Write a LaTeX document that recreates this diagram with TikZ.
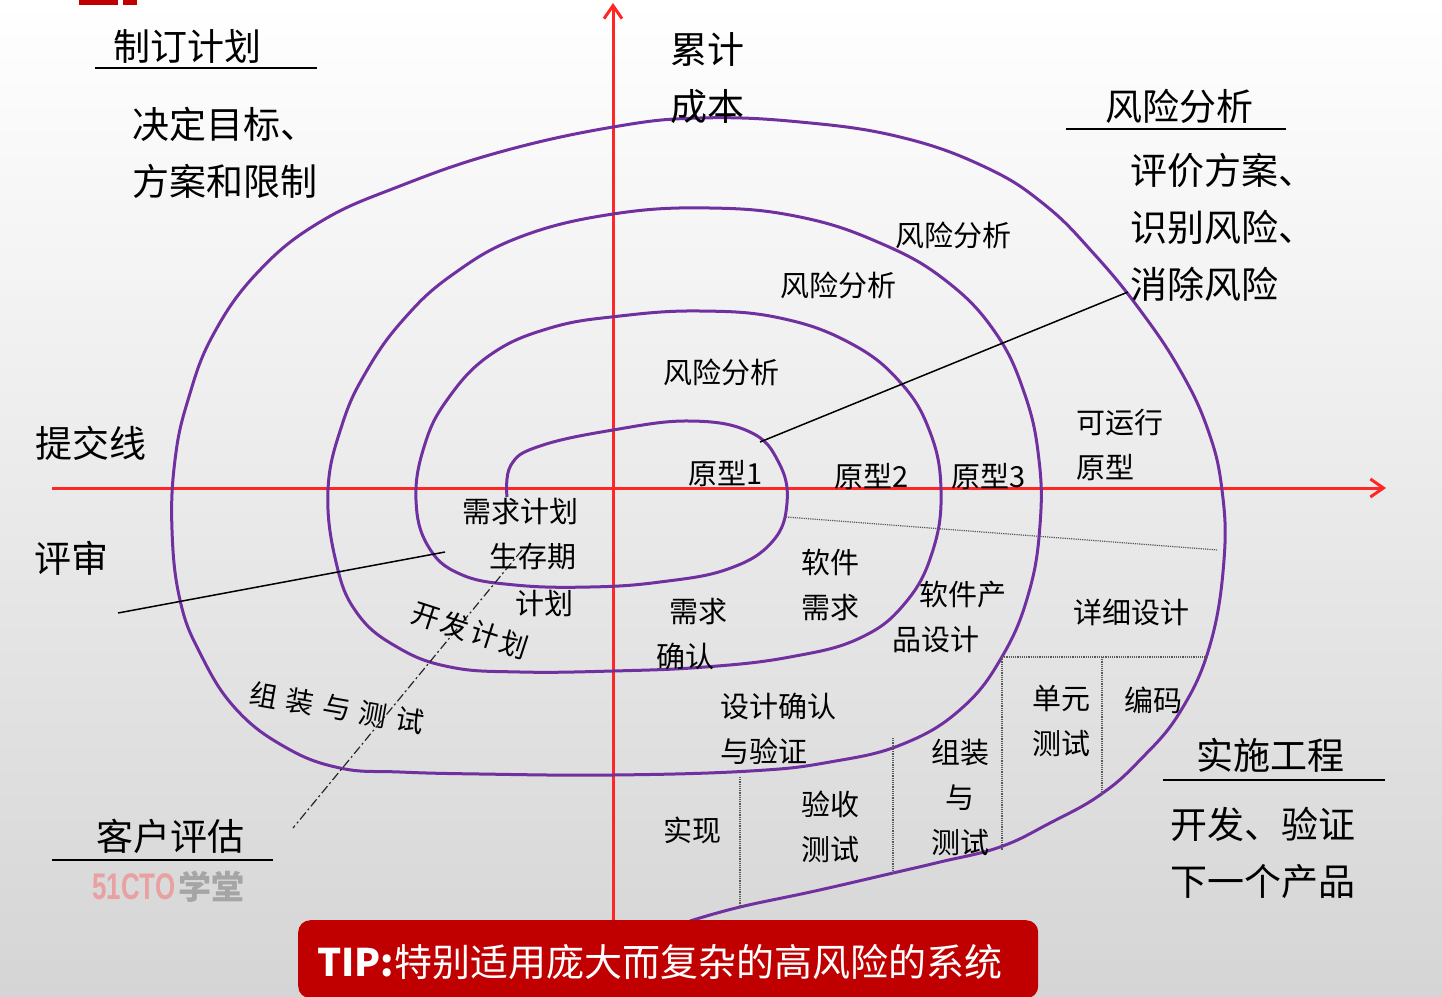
\documentclass[tikz,border=0pt]{standalone}
\usepackage{fontspec}
\setmainfont{Noto Sans CJK SC}
\newfontfamily\logofont{Liberation Sans}
\usepackage{tikz}
\usetikzlibrary{arrows.meta}
\definecolor{spiralpurple}{RGB}{112,48,160}
\definecolor{axisred}{RGB}{255,38,38}
\definecolor{tipred}{RGB}{192,0,0}
\definecolor{logopink}{RGB}{232,160,160}
\definecolor{logogray}{RGB}{165,165,165}
\definecolor{bgmid}{RGB}{244,244,244}
\definecolor{bgbottom}{RGB}{213,213,213}
\tikzset{
  bigtxt/.style={inner sep=0pt, align=center, font=\fontsize{37}{57}\selectfont},
  smalltxt/.style={inner sep=0pt, align=center, font=\fontsize{29}{45}\selectfont},
  spiral/.style={draw=spiralpurple, line width=3pt},
  axis/.style={draw=axisred, line width=3pt, -{Straight Barb[length=13pt,width=18pt]}},
  rule/.style={line width=1.5pt},
  guide/.style={densely dotted, line width=1.2pt, gray!70!black},
  dashdotline/.style={line width=1.2pt, gray!30!black, dash pattern=on 9pt off 3pt on 2pt off 3pt},
  tipbox/.style={fill=tipred, rounded corners=12pt, minimum width=740pt, minimum height=78pt, inner sep=0pt}
}

\begin{document}
\begin{tikzpicture}[x=1pt, y=-1pt]
        % Background
        \useasboundingbox (0,0) rectangle (1442,996);
        \shade[top color=white, middle color=bgmid, bottom color=bgbottom] (0,0) rectangle (1442,996);
        \fill[tipred] (79,0) rectangle (118,5);
        \fill[tipred] (123,0) rectangle (137,5);

        % Axes
        \coordinate (xstart) at (52,488);
        \coordinate (xend)   at (1386,488);
        \coordinate (ystart) at (613,921);
        \coordinate (yend)   at (613,3);
        \draw[axis] (xstart) -- (xend);
        \draw[axis] (ystart) -- (yend);

        % Spiral
        \draw[spiral] plot[smooth, tension=0.7] coordinates {
          (507,497) (511,465) (540,446) (613,430) (690,421) (750,432) (779,463) (787,503)
          (772,542) (728,569) (660,582) (590,587) (515,585) (460,574) (428,546) (416,500)
          (424,447) (447,400) (490,355) (550,328) (620,316) (700,311) (780,318) (850,343)
          (900,382) (930,432) (941,490) (933,550) (906,602) (860,638) (790,657) (705,667)
          (613,671) (520,672) (450,667) (397,647) (357,613) (336,562) (328,490) (342,425)
          (366,372) (403,320) (452,275) (520,237) (613,214) (710,208) (800,217) (880,243)
          (945,280) (995,332) (1025,395) (1039,460) (1040,525) (1029,592) (1003,655) (962,708)
          (903,744) (830,762) (750,771) (613,775) (480,774) (400,772) (340,768) (285,747)
          (235,708) (200,653) (180,600) (172,530) (175,460) (188,400) (213,335) (258,272)
          (320,222) (400,186) (500,152) (613,127) (700,118) (800,122) (900,137) (985,167)
          (1045,205) (1095,255) (1140,310) (1180,370) (1208,430) (1222,490) (1224,560) (1210,645)
          (1180,712) (1140,760) (1100,795) (1050,823) (1000,847) (940,862) (893,873) (815,891)
          (740,907) (690,921)};

        % Lines
        \coordinate (protolink) at (760,442);
        \coordinate (risklink)  at (1128,292);
        \coordinate (reviewa)   at (118,613);
        \coordinate (reviewb)   at (445,552);
        \draw[rule] (protolink) -- (risklink);
        \draw[rule] (reviewa) -- (reviewb);
        \draw[rule] (95,68) -- (317,68);
        \draw[rule] (1066,129) -- (1286,129);
        \draw[rule] (52,860) -- (273,860);
        \draw[rule] (1163,780) -- (1385,780);
        \draw[dashdotline] (522,550) -- (293,828);

        % Dotted guides
        \draw[guide] (786,517) -- (1218,550);
        \draw[guide] (1002,657) -- (1207,657);
        \draw[guide] (1002,657) -- (1002,850);
        \draw[guide] (1102,657) -- (1102,795);
        \draw[guide] (893,738) -- (893,873);
        \draw[guide] (740,777) -- (740,907);

        % Quadrant titles
        \node[bigtxt] (plan) at (187,46) {制订计划};
        \node[bigtxt, align=left, anchor=west] (planbody) at (132,153) {决定目标、\\方案和限制};
        \node[bigtxt] (cost) at (707,78) {累计\\成本};
        \node[bigtxt] (risk) at (1179,106) {风险分析};
        \node[bigtxt, align=left, anchor=west] (riskbody) at (1130,227) {评价方案、\\识别风险、\\消除风险};
        \node[bigtxt] (submit) at (91,443) {提交线};
        \node[bigtxt] (review) at (71,558) {评审};
        \node[bigtxt] (customer) at (170,836) {客户评估};
        \node[bigtxt] (impl) at (1270,755) {实施工程};
        \node[bigtxt, align=left, anchor=west] (implbody) at (1170,853) {开发、验证\\下一个产品};

        % Spiral labels
        \node[smalltxt] (riska) at (721,372) {风险分析};
        \node[smalltxt] (riskb) at (838,285) {风险分析};
        \node[smalltxt] (riskc) at (953,235) {风险分析};
        \node[smalltxt] (protoa) at (726,474) {原型1};
        \node[smalltxt] (protob) at (872,477) {原型2};
        \node[smalltxt] (protoc) at (989,477) {原型3};
        \node[smalltxt, align=left, anchor=west] (protorun) at (1076,445) {可运行\\原型};
        \node[smalltxt, anchor=east] (lifea) at (579,512) {需求计划};
        \node[smalltxt, anchor=east] (lifeb) at (577,557) {生存期};
        \node[smalltxt, anchor=east] (lifec) at (574,603) {计划};
        \node[inner sep=0pt, font=\fontsize{28}{28}\selectfont, rotate=-18] (devplan) at (470,630)
          {开\hspace{3pt}发\hspace{3pt}计\hspace{3pt}划};
        \node[inner sep=0pt, font=\fontsize{28}{28}\selectfont, rotate=-10] (assemble) at (337,708)
          {组\hspace{9pt}装\hspace{9pt}与\hspace{9pt}测\hspace{9pt}试};
        \node[smalltxt] (reqa) at (698,612) {需求};
        \node[smalltxt] (reqb) at (685,656) {确认};
        \node[smalltxt] (swreq) at (830,585) {软件\\需求};
        \node[smalltxt] (swdesa) at (963,595) {软件产};
        \node[smalltxt] (swdesb) at (936,640) {品设计};
        \node[smalltxt] (detail) at (1131,612) {详细设计};
        \node[smalltxt] (unittest) at (1061,721) {单元\\测试};
        \node[smalltxt] (coding) at (1153,700) {编码};
        \node[smalltxt, align=left, anchor=west] (designcheck) at (720,729) {设计确认\\与验证};
        \node[smalltxt] (realize) at (692,830) {实现};
        \node[smalltxt] (accept) at (830,827) {验收\\测试};
        \node[smalltxt] (integ) at (960,797) {组装\\与\\测试};

        % Logo
        \node[anchor=west, inner sep=0pt] (logo) at (92,887)
          {{\logofont\bfseries\fontsize{37}{37}\selectfont\color{logopink}\scalebox{0.7}[1]{51CTO}}\hspace{3pt}{\bfseries\fontsize{33}{33}\selectfont\color{logogray}学堂}};

        % Tip
        \node[tipbox, anchor=north west] (tip) at (298,920) {};
        \node[anchor=west, inner sep=0pt, text=white, font=\fontsize{38}{38}\selectfont] (tiptext) at (317,962)
          {\textbf{TIP:}特别适用庞大而复杂的高风险的系统};
    \end{tikzpicture}
\end{document}
